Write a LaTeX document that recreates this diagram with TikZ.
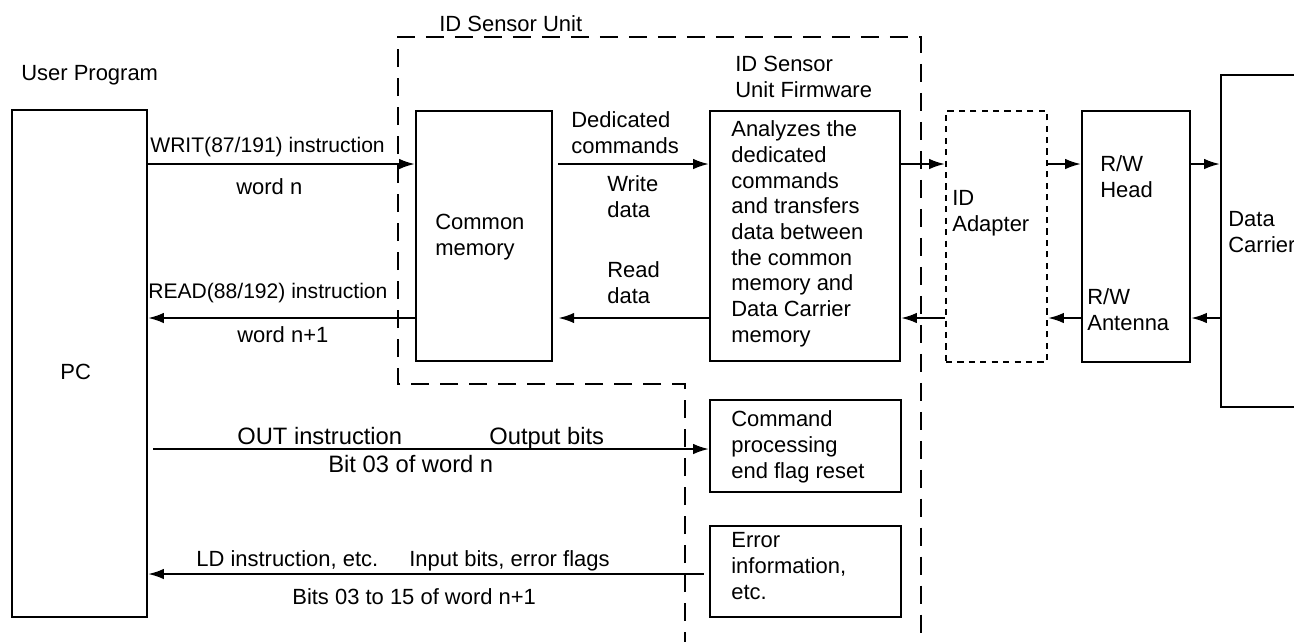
\documentclass[tikz,border=0pt]{standalone}
\usepackage{fontspec}
\setmainfont{Liberation Sans}
\usepackage{tikz}
\usetikzlibrary{arrows.meta,fit}

\begin{document}
\begin{tikzpicture}[x=0.2mm,y=-0.2mm,
		every node/.style={font=\fontsize{12.5}{14.6}\selectfont},
		blk/.style={draw,line width=1.2pt,inner sep=0pt},
		txt/.style={anchor=base west,inner sep=0pt,align=left},
		small/.style={font=\fontsize{12}{14}\selectfont},
		big/.style={font=\fontsize{13.5}{16}\selectfont},
		arr/.style={line width=1.2pt,-{Latex[length=9pt,width=6pt]}},
		unitline/.style={line width=1.2pt,dash pattern=on 10.5pt off 6pt},
		adline/.style={dash pattern=on 3.5pt off 3pt}]
			\clip (0,0) rectangle (1294,641);
			%boxes
			\node[blk,fit={(12,110) (147,617)}] (pc) {};
			\node[blk,fit={(416,111) (552,361)}] (cm) {};
			\node[blk,fit={(710,111) (900,361)}] (fw) {};
			\node[blk,fit={(710,400) (901,492)}] (cmd) {};
			\node[blk,fit={(710,526) (901,617)}] (err) {};
			\node[blk,adline,fit={(946,111) (1047,362)}] (ad) {};
			\node[blk,fit={(1082,111) (1190,362)}] (rw) {};
			\node[blk,fit={(1221,75) (1340,407)}] (dc) {};
			
			%ID Sensor Unit border
			\draw[unitline] (685,650) -- (685,384) -- (398,384) -- (398,37) -- (921,37) -- (921,650);
			
			%arrow levels
			\coordinate (wr) at (0,164);
			\coordinate (rd) at (0,318);
			\coordinate (ot) at (0,449);
			\coordinate (ld) at (0,574);
			
			%arrows
			\draw[arr] (pc.east |- wr) -- (cm.west |- wr);
			\draw[arr] (cm.west |- rd) -- (pc.east |- rd);
			\draw[arr,shorten <=3pt] (cm.east |- wr) -- (fw.west |- wr);
			\draw[arr,shorten >=3pt] (fw.west |- rd) -- (cm.east |- rd);
			\draw[arr] (fw.east |- wr) -- (ad.west |- wr);
			\draw[arr] (ad.west |- rd) -- (fw.east |- rd);
			\draw[arr] (ad.east |- wr) -- (rw.west |- wr);
			\draw[arr] (rw.west |- rd) -- (ad.east |- rd);
			\draw[arr] (rw.east |- wr) -- (dc.west |- wr);
			\draw[arr] (dc.west |- rd) -- (rw.east |- rd);
			\draw[arr,shorten <=3pt] (pc.east |- ot) -- (cmd.west |- ot);
			\draw[arr,shorten <=3pt] (err.west |- ld) -- (pc.east |- ld);
			
			%texts (multi-line ones sit on their last line)
			\node[txt] (tup) at (21,80) {User Program};
			\node[txt] (tunit) at (439,31) {ID Sensor Unit};
			\node[txt] (tfw) at (735,97) {ID Sensor\\Unit Firmware};
			\node[txt] (tpc) at (60,379) {PC};
			\node[txt,small] (twrit) at (150,152) {WRIT(87/191) instruction};
			\node[txt] (twn) at (236,194) {word n};
			\node[txt,small] (tread) at (148,298) {READ(88/192) instruction};
			\node[txt] (twn1) at (237,342) {word n+1};
			\node[txt] (tcm) at (435,255) {Common\\memory};
			\node[txt] (tded) at (571,153) {Dedicated\\commands};
			\node[txt] (twd) at (607,217) {Write\\data};
			\node[txt] (trd) at (607,303) {Read\\data};
			\node[txt] (tana) at (731,342) {Analyzes the\\dedicated\\commands\\and transfers\\data between\\the common\\memory and\\Data Carrier\\memory};
			\node[txt] (tad) at (952,231) {ID\\Adapter};
			\node[txt] (thead) at (1100,197) {R/W\\Head};
			\node[txt] (tant) at (1087,330) {R/W\\Antenna};
			\node[txt] (tdc) at (1228,252) {Data\\Carrier};
			\node[txt] (tcmd) at (731,478) {Command\\processing\\end flag reset};
			\node[txt] (terr) at (731,599) {Error\\information,\\etc.};
			\node[txt,big] (tout) at (237,444) {OUT instruction};
			\node[txt,big] (tob) at (489,444) {Output bits};
			\node[txt,big] (tb03) at (328,472) {Bit 03 of word n};
			\node[txt] (tld) at (196,566) {LD instruction, etc.};
			\node[txt] (tib) at (409,566) {Input bits, error flags};
			\node[txt] (tb15) at (292,604) {Bits 03 to 15 of word n+1};
\end{tikzpicture}
\end{document}
